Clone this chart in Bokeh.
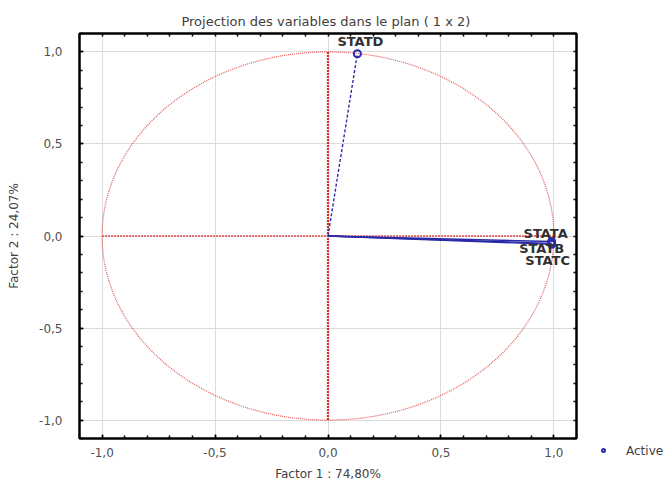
from bokeh.plotting import figure
from bokeh.layouts import row
from bokeh.models import (Range1d, LinearAxis, FixedTicker, Grid, Div,
                          ColumnDataSource)
from bokeh.core.properties import value
from bokeh.embed import file_html
from bokeh.resources import INLINE

# ---------------- data ----------------
title_text = "Projection des variables dans le plan ( 1 x  2)"
x_label = "Factor 1 : 74,80%"
y_label = "Factor 2 : 24,07%"
variables = ["STATA", "STATB", "STATC", "STATD"]
factor1 = [0.99, 0.99, 0.99, 0.13]
factor2 = [-0.03, -0.04, -0.045, 0.99]
legend_label = "Active"
tick_values = [-1.0, -0.5, 0.0, 0.5, 1.0]
tick_labels = ["-1,0", "-0,5", "0,0", "0,5", "1,0"]
minor_tick_values = [-1.1, -1.0, -0.9, -0.8, -0.7, -0.6, -0.5, -0.4, -0.3, -0.2, -0.1,
                     0.0, 0.1, 0.2, 0.3, 0.4, 0.5, 0.6, 0.7, 0.8, 0.9, 1.0, 1.1]
circle_radius = 1.0
axis_range = 1.1

# ---------------- style ----------------
FONT = "DejaVu Sans"
TEXT_COLOR = "#404040"
BLUE = "#2a2aa8"
RED = "#e04848"
label_dx = [-6, -10, -4, 3]
label_dy = [-8, 5, 16, -12]
line_dashes = ["solid", "solid", "solid", "3 2"]

TOTAL_H = 33 + 405 + 48

p = figure(frame_width=497, frame_height=405,
           min_border_left=79, min_border_right=10,
           min_border_top=33, min_border_bottom=48,
           x_range=Range1d(-axis_range, axis_range),
           y_range=Range1d(-axis_range, axis_range),
           output_backend="svg", toolbar_location=None,
           x_axis_location=None, y_axis_location=None,
           background_fill_color="white", border_fill_color="white")
p.outline_line_color = "black"
p.outline_line_width = 2

p.title.text = title_text
p.title.text_font = FONT
p.title.text_font_size = "13px"
p.title.text_font_style = "normal"
p.title.text_color = TEXT_COLOR
p.title.align = "center"
p.title.offset = -31

tick_map = {v: t for v, t in zip(tick_values, tick_labels)}


def style_ticks(ax):
    ax.axis_line_color = "black"
    ax.axis_line_width = 2
    ax.major_tick_in = 4
    ax.major_tick_out = 0
    ax.minor_tick_in = 3
    ax.minor_tick_out = 0
    ax.major_tick_line_width = 1.5
    ax.minor_tick_line_width = 1.5
    ax.major_tick_line_color = "black"
    ax.minor_tick_line_color = "black"


def labelled_axis(label, tick_standoff, label_standoff):
    ax = LinearAxis(ticker=FixedTicker(ticks=tick_values, minor_ticks=minor_tick_values))
    style_ticks(ax)
    ax.major_label_overrides = tick_map
    ax.major_label_text_font = FONT
    ax.major_label_text_font_size = "12px"
    ax.major_label_text_color = "#505050"
    ax.major_label_standoff = tick_standoff
    ax.axis_label = label
    ax.axis_label_text_font = FONT
    ax.axis_label_text_font_size = "12px"
    ax.axis_label_text_font_style = "normal"
    ax.axis_label_text_color = TEXT_COLOR
    ax.axis_label_standoff = label_standoff
    return ax


def plain_axis():
    ax = LinearAxis(ticker=FixedTicker(ticks=[], minor_ticks=minor_tick_values))
    style_ticks(ax)
    ax.major_label_standoff = 0
    return ax


p.add_layout(labelled_axis(x_label, 9, 7), "below")
p.add_layout(labelled_axis(y_label, 17, 15), "left")
p.add_layout(plain_axis(), "above")
p.add_layout(plain_axis(), "right")

p.xgrid.visible = False
p.ygrid.visible = False
p.add_layout(Grid(dimension=0, ticker=FixedTicker(ticks=tick_values),
                  grid_line_color="#dcdcdc", grid_line_width=1))
p.add_layout(Grid(dimension=1, ticker=FixedTicker(ticks=tick_values),
                  grid_line_color="#dcdcdc", grid_line_width=1))

# correlation circle
p.ellipse(x=0, y=0, width=2 * circle_radius, height=2 * circle_radius,
          fill_color=None, line_color=RED, line_width=1.2, line_dash="1 1", line_alpha=0.9)
# red reference lines
p.segment(x0=[0], y0=[-circle_radius], x1=[0], y1=[circle_radius],
          line_color="#e02828", line_width=2.2, line_dash="2 1")
p.segment(x0=[-circle_radius], y0=[0], x1=[circle_radius], y1=[0],
          line_color=RED, line_width=1.5, line_dash="2 1")

# vectors
for i in range(len(variables)):
    p.segment(x0=[0], y0=[0], x1=[factor1[i]], y1=[factor2[i]],
              line_color=BLUE, line_width=1.4, line_dash=line_dashes[i])

src = ColumnDataSource(dict(x=factor1, y=factor2, name=variables,
                            dx=label_dx, dy=label_dy))
pts = p.scatter(x="x", y="y", source=src, marker="circle", size=7,
                fill_color="white", fill_alpha=0.0, line_color=BLUE, line_width=2)
p.text(x="x", y="y", text="name", source=src, x_offset="dx", y_offset="dy",
       text_font=value(FONT), text_font_size="13px", text_font_style="bold",
       text_color="#303030", text_align="center", text_baseline="middle")

# ---------------- legend (outside the plot frame, bottom right) ----------------
legend_html = (
    '<div style="padding-top:443px; padding-left:15px; line-height:14px; '
    'white-space:nowrap; font-family:\'DejaVu Sans\'; font-size:12px; color:%s;">'
    '<span style="display:inline-block; width:5px; height:5px; border:2px solid %s; '
    'border-radius:50%%; vertical-align:middle;"></span>'
    '<span style="margin-left:20px; vertical-align:middle;">%s</span></div>'
) % (TEXT_COLOR, BLUE, legend_label)
legend_div = Div(text=legend_html, width=74, height=TOTAL_H, margin=0)

layout = row(p, legend_div)
open("out.html", "w").write(file_html(layout, INLINE))
